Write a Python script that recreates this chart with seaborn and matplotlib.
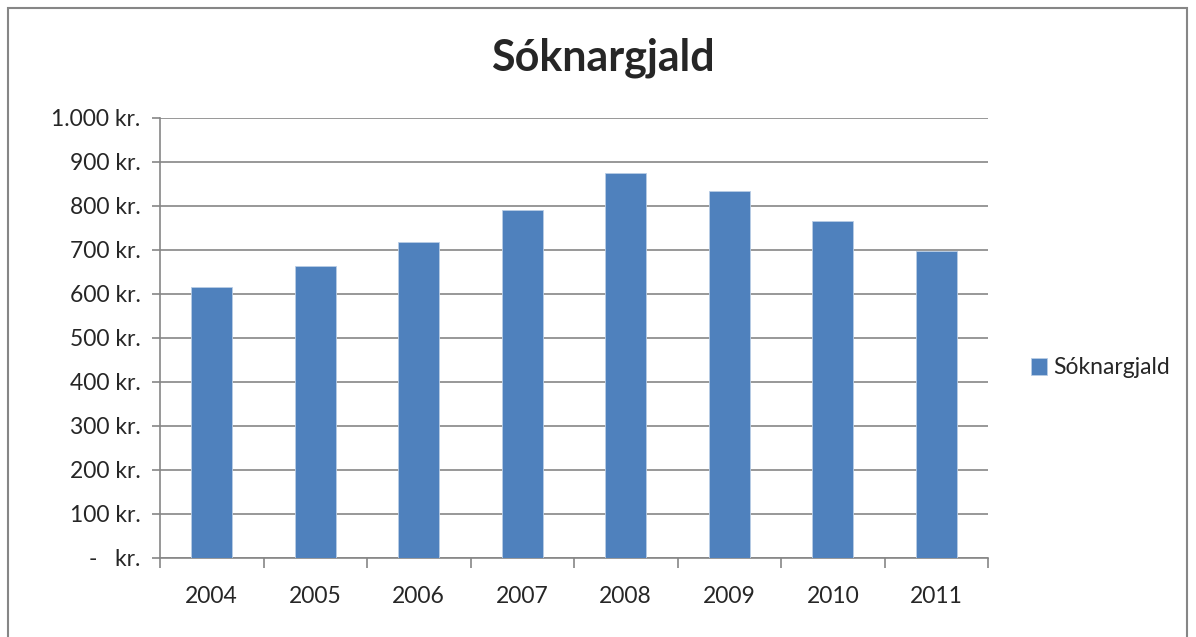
import numpy as np
import pandas as pd
import seaborn as sns
import matplotlib.pyplot as plt
from matplotlib.ticker import FuncFormatter, FixedLocator, MultipleLocator
from matplotlib.patches import Rectangle

# Data
years = ["2004", "2005", "2006", "2007", "2008", "2009", "2010", "2011"]
gjald = [617, 663, 719, 790, 874, 833, 767, 698]
series_name = "Sóknargjald"

df = pd.DataFrame({"year": years, "value": gjald})

sns.set_style("white")
plt.rcParams['font.family'] = ['Lato', 'DejaVu Sans']

fig = plt.figure(figsize=(11.96, 6.37), dpi=100)
ax = fig.add_axes([160 / 1196, 1 - 558 / 637, (988 - 160) / 1196, (558 - 118) / 637])

sns.barplot(data=df, x="year", y="value", color="#4f81bd", saturation=1,
            width=0.4, ax=ax, label=series_name, edgecolor="#b9cde5", linewidth=0.6,
            zorder=3)

ax.set_ylim(0, 1000)
ax.set_xlim(-0.5, len(years) - 0.5)
ax.yaxis.set_major_locator(MultipleLocator(100))


def kr(v, pos):
    if v == 0:
        return "-   kr."
    return f"{int(v):,} kr.".replace(",", ".")


ax.yaxis.set_major_formatter(FuncFormatter(kr))
ax.grid(axis="y", color="#868686", linewidth=1.2, zorder=0)
ax.set_axisbelow(True)

# category labels centred, tick marks between categories
ax.xaxis.set_major_locator(FixedLocator(np.arange(-0.5, len(years), 1.0)))
ax.xaxis.set_minor_locator(FixedLocator(np.arange(len(years))))
ax.set_xticklabels([], minor=False)
ax.set_xticklabels(years, minor=True)
ax.tick_params(axis="x", which="major", bottom=True, length=7, width=1.2,
               color="#868686", direction="out")
ax.tick_params(axis="x", which="minor", bottom=True, length=0, pad=20, labelsize=16.5)
ax.tick_params(axis="y", left=True, length=6, width=1.2, color="#868686",
               direction="out", pad=8, labelsize=16.5)
ax.set_xlabel("")
ax.set_ylabel("")

for side in ["top", "right"]:
    ax.spines[side].set_visible(False)
for side in ["left", "bottom"]:
    ax.spines[side].set_color("#868686")
    ax.spines[side].set_linewidth(1.2)

fig.text(603 / 1196, 1 - 58 / 637, series_name, ha="center", va="center",
         fontsize=31, fontweight="bold")

ax.legend(loc="center left", bbox_to_anchor=(1010 / 1196, 1 - 368 / 637),
          bbox_transform=fig.transFigure, frameon=False, fontsize=16.5,
          handlelength=0.7, handleheight=0.7, handletextpad=0.3)

fig.patches.append(Rectangle((8 / 1196, -0.05), (1187 - 8) / 1196, 1 - 8 / 637 + 0.05,
                             transform=fig.transFigure, fill=False,
                             edgecolor="#868686", linewidth=1.5))

fig.savefig("out.png", dpi=100)
